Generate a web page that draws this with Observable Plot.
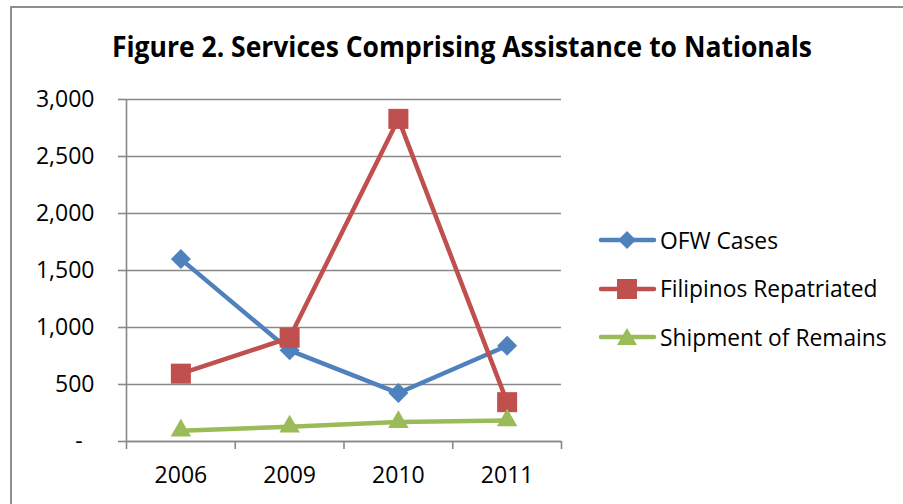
<!DOCTYPE html>
<html>
<head>
<meta charset="utf-8">
<script src="https://cdn.jsdelivr.net/npm/d3@7"></script>
<script src="https://cdn.jsdelivr.net/npm/@observablehq/plot@0.6"></script>
<style>
  html, body { margin: 0; padding: 0; background: #fff; }
  #wrap { position: relative; width: 903px; height: 504px; overflow: hidden; font-family: "Open Sans", sans-serif; }
  #frame { position: absolute; left: 10px; top: 6px; width: 1000px; height: 1000px;
           border-left: 2px solid #8f8f8f; border-top: 2px solid #8f8f8f; }
  #chart svg { position: absolute; left: 0; top: 0; }
  #title { position: absolute; left: 0; top: 0; }
  #legend { position: absolute; left: 598px; top: 0; }
  .row { position: absolute; left: 0; display: flex; align-items: center; white-space: nowrap;
         font-size: 22.8px; color: #000; height: 30px; }
  .row svg { display: block; margin-right: 2px; }
</style>
</head>
<body>
<div id="wrap">
  <div id="frame"></div>
  <div id="chart"></div>
  <svg id="title" width="903" height="80">
    <text x="462" y="57" text-anchor="middle" font-family="Open Sans" font-weight="700" font-size="28.5" textLength="700" lengthAdjust="spacingAndGlyphs">Figure 2. Services Comprising Assistance to Nationals</text>
  </svg>
  <div id="legend"></div>
</div>
<script>
const years = ["2006", "2009", "2010", "2011"];
const ofwCases = [1600, 800, 425, 840];
const filipinosRepatriated = [595, 910, 2830, 345];
const shipmentOfRemains = [95, 130, 170, 185];
const seriesNames = ["OFW Cases", "Filipinos Repatriated", "Shipment of Remains"];
const yTicks = [0, 500, 1000, 1500, 2000, 2500, 3000];

const colors = ["#4F81BD", "#C0504D", "#9BBB59"];
const symbols = ["diamond2", "square", "triangle"];
const radii = [9, 11.3, 7.6];
const seriesValues = [ofwCases, filipinosRepatriated, shipmentOfRemains];

const rows = [];
seriesNames.forEach((name, s) => {
  years.forEach((yr, i) => rows.push({series: name, s, year: yr, i, value: seriesValues[s][i]}));
});

const grid = "#888888";
const marks = [
  Plot.gridY(yTicks, {stroke: grid, strokeOpacity: 1, strokeWidth: 1.6}),
  Plot.axisY(yTicks, {
    tickSize: 8, tickPadding: 24, stroke: grid, strokeWidth: 1.6, fontSize: 23, fill: "#000",
    tickFormat: d => d === 0 ? "-\u00a0\u00a0" : d3.format(",")(d), label: null
  }),
  Plot.axisX([0, 1, 2, 3, 4], {tickSize: 8, stroke: grid, strokeWidth: 1.6, tickFormat: () => "", label: null}),
  Plot.axisX(years.map((d, i) => i + 0.5), {
    tickSize: 0, tickPadding: 25, fontSize: 23, fill: "#000",
    tickFormat: v => years[Math.round(v - 0.5)], label: null
  }),
  Plot.ruleX([0], {stroke: grid, strokeWidth: 1.6}),
  Plot.ruleY([0], {stroke: grid, strokeWidth: 1.6})
];
seriesNames.forEach((name, s) => {
  const data = rows.filter(r => r.s === s);
  marks.push(Plot.line(data, {x: d => d.i + 0.5, y: "value", stroke: colors[s], strokeWidth: 4.5, strokeLinejoin: "round", strokeLinecap: "round"}));
  marks.push(Plot.dot(data, {x: d => d.i + 0.5, y: "value", symbol: symbols[s], r: radii[s], fill: colors[s], stroke: "none"}));
});

const chart = Plot.plot({
  width: 903, height: 504,
  marginLeft: 126, marginRight: 342, marginTop: 99, marginBottom: 63,
  style: {fontFamily: "Open Sans", background: "transparent", overflow: "visible"},
  x: {type: "linear", domain: [0, 4], axis: null},
  y: {domain: [0, 3000], axis: null},
  marks
});
document.getElementById("chart").appendChild(chart);

// legend
const legend = document.getElementById("legend");
const legendY = [240, 288.5, 337];
const glyph = (s) => {
  const c = colors[s];
  let m;
  if (s === 0) m = `<path d="M29,20 L38,29 L29,38 L20,29 Z" fill="${c}"/>`;
  else if (s === 1) m = `<rect x="19" y="19" width="20" height="20" fill="${c}"/>`;
  else m = `<path d="M29,20 L39,37 L19,37 Z" fill="${c}"/>`;
  return `<svg width="60" height="58" viewBox="0 0 60 58"><line x1="3" y1="29" x2="56" y2="29" stroke="${c}" stroke-width="4.5" stroke-linecap="round"/>${m}</svg>`;
};
seriesNames.forEach((name, s) => {
  const div = document.createElement("div");
  div.className = "row";
  div.style.top = (legendY[s] - 29) + "px";
  div.style.height = "58px";
  div.innerHTML = glyph(s) + `<span>${name}</span>`;
  legend.appendChild(div);
});
</script>
</body>
</html>
